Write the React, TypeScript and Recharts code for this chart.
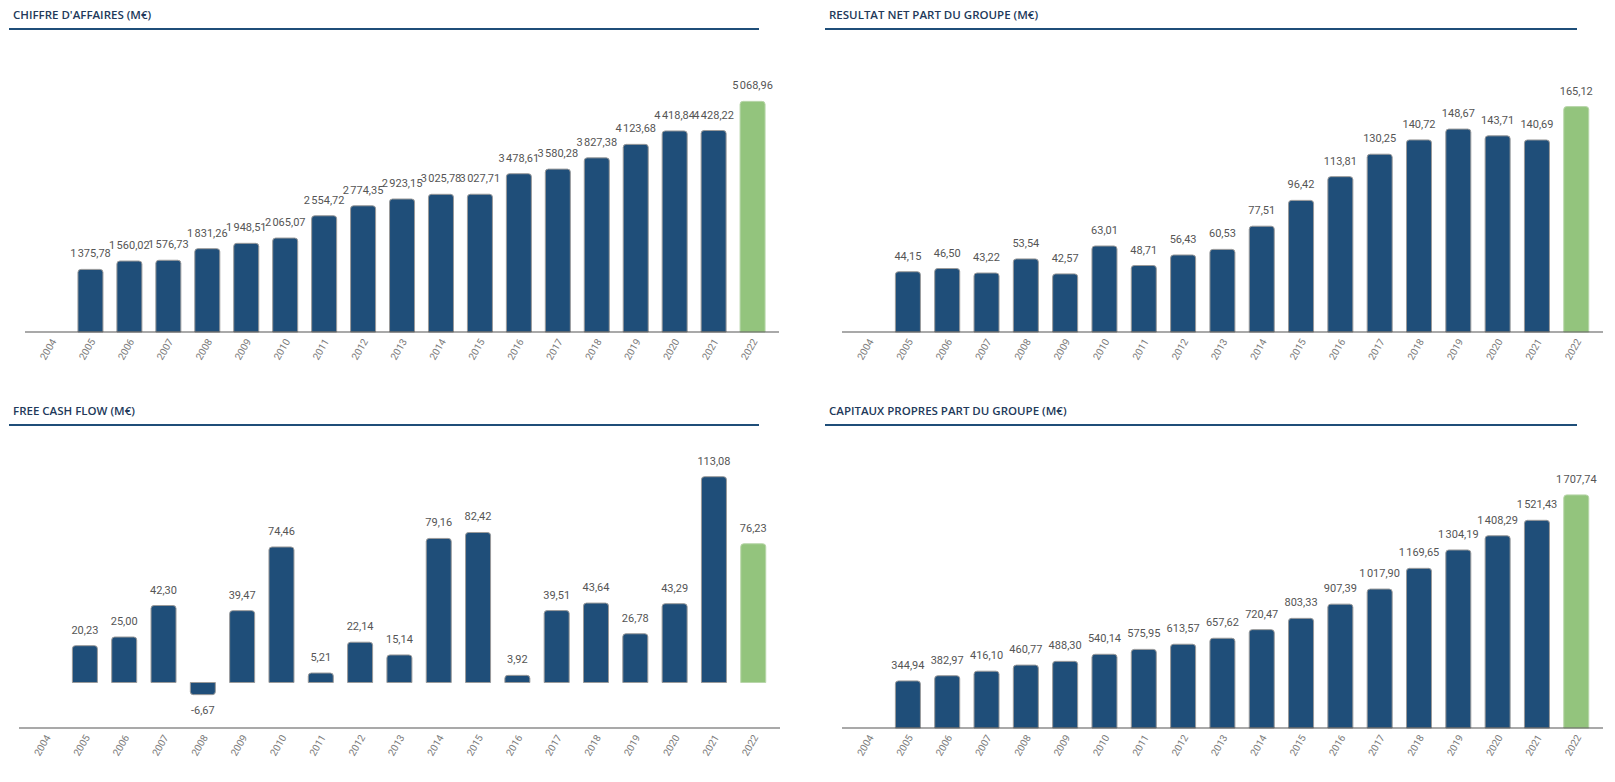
import { Bar, BarChart, Cell, LabelList, XAxis, YAxis } from "recharts";

const years = ["2004", "2005", "2006", "2007", "2008", "2009", "2010", "2011", "2012", "2013", "2014", "2015", "2016", "2017", "2018", "2019", "2020", "2021", "2022"];

const chiffreAffaires = [null, 1375.78, 1560.02, 1576.73, 1831.26, 1948.51, 2065.07, 2554.72, 2774.35, 2923.15, 3025.78, 3027.71, 3478.61, 3580.28, 3827.38, 4123.68, 4418.84, 4428.22, 5068.96];
const resultatNet = [null, 44.15, 46.5, 43.22, 53.54, 42.57, 63.01, 48.71, 56.43, 60.53, 77.51, 96.42, 113.81, 130.25, 140.72, 148.67, 143.71, 140.69, 165.12];
const freeCashFlow = [null, 20.23, 25.0, 42.3, -6.67, 39.47, 74.46, 5.21, 22.14, 15.14, 79.16, 82.42, 3.92, 39.51, 43.64, 26.78, 43.29, 113.08, 76.23];
const capitauxPropres = [null, 344.94, 382.97, 416.1, 460.77, 488.3, 540.14, 575.95, 613.57, 657.62, 720.47, 803.33, 907.39, 1017.9, 1169.65, 1304.19, 1408.29, 1521.43, 1707.74];

const BLUE = "#1f4e79";
const GREEN = "#93c47d";
const FONT = "Roboto, 'Noto Sans', sans-serif";

function formatFr(v: number) {
  const [int, dec] = Math.abs(v).toFixed(2).split(".");
  const grouped = int.replace(/\B(?=(\d{3})+(?!\d))/g, "\u202F");
  return (v < 0 ? "-" : "") + grouped + "," + dec;
}

function YearTick({ x, y, payload }: any) {
  return (
    <text
      x={x + 3}
      y={y}
      transform={`rotate(-60, ${x + 3}, ${y})`}
      textAnchor="end"
      dominantBaseline="middle"
      fontSize={10}
      fill="#7a7a7a"
      fontFamily={FONT}
    >
      {payload.value}
    </text>
  );
}

function ValueLabel({ x, y, width, height, value }: any) {
  if (value === null || value === undefined) return null;
  const top = Math.min(y, y + height);
  const bottom = Math.max(y, y + height);
  const ty = value >= 0 ? top - 12 : bottom + 19;
  return (
    <text x={x + width / 2} y={ty} textAnchor="middle" fontSize={11} fill="#555" fontFamily={FONT}>
      {formatFr(value)}
    </text>
  );
}

type PanelProps = {
  title: string;
  values: (number | null)[];
  domain: [number, number];
  left: number;
  top: number;
  chartWidth: number;
  marginLeft: number;
  plotWidth: number;
  lineStart: number;
  lineWidth: number;
};

function Panel({ title, values, domain, left, top, chartWidth, marginLeft, plotWidth, lineStart, lineWidth }: PanelProps) {
  const data = years.map((year, i) => ({ year, value: values[i] }));
  return (
    <div style={{ position: "absolute", left, top, width: chartWidth, height: 390 }}>
      <div
        style={{
          position: "absolute",
          left: lineStart + 4,
          top: 7,
          fontFamily: "'Open Sans', sans-serif",
          fontWeight: 600,
          fontSize: 11.5,
          color: "#22395a",
          whiteSpace: "nowrap",
        }}
      >
        {title}
      </div>
      <div
        style={{
          position: "absolute",
          left: lineStart,
          top: 28,
          width: lineWidth,
          height: 1.5,
          background: BLUE,
        }}
      />
      <div style={{ position: "absolute", left: 0, top: 0 }}>
        <BarChart
          width={chartWidth}
          height={382}
          data={data}
          margin={{ top: 59, left: marginLeft, right: chartWidth - marginLeft - plotWidth, bottom: 0 }}
          barCategoryGap="18%"
        >
          <XAxis
            dataKey="year"
            height={50}
            interval={0}
            tickLine={false}
            padding={{ left: 7, right: 7 }}
            axisLine={{ stroke: "#555", strokeWidth: 1.2 }}
            tick={<YearTick />}
          />
          <YAxis hide domain={domain} />
          <Bar dataKey="value" isAnimationActive={false} radius={[3, 3, 0, 0]} strokeWidth={1}>
            {data.map((d) => (
              <Cell
                key={d.year}
                fill={d.year === "2022" ? GREEN : BLUE}
                stroke={d.year === "2022" ? "#b9d6aa" : "#9a9a9a"}
              />
            ))}
            <LabelList dataKey="value" content={<ValueLabel />} />
          </Bar>
        </BarChart>
      </div>
    </div>
  );
}

export default function App() {
  return (
    <div style={{ position: "absolute", left: 0, top: 0, width: 1615, height: 782, background: "#fff" }}>
      <Panel
        title="CHIFFRE D'AFFAIRES (M€)"
        values={chiffreAffaires}
        domain={[0, 6000]}
        left={0}
        top={0}
        chartWidth={800}
        marginLeft={25}
        plotWidth={754}
        lineStart={9}
        lineWidth={750}
      />
      <Panel
        title="RESULTAT NET PART DU GROUPE (M€)"
        values={resultatNet}
        domain={[0, 200]}
        left={800}
        top={0}
        chartWidth={815}
        marginLeft={42}
        plotWidth={761}
        lineStart={25}
        lineWidth={752}
      />
      <Panel
        title="FREE CASH FLOW (M€)"
        values={freeCashFlow}
        domain={[-25, 125]}
        left={0}
        top={396}
        chartWidth={800}
        marginLeft={19}
        plotWidth={761}
        lineStart={9}
        lineWidth={750}
      />
      <Panel
        title="CAPITAUX PROPRES PART DU GROUPE (M€)"
        values={capitauxPropres}
        domain={[0, 2000]}
        left={800}
        top={396}
        chartWidth={815}
        marginLeft={42}
        plotWidth={761}
        lineStart={25}
        lineWidth={752}
      />
    </div>
  );
}
